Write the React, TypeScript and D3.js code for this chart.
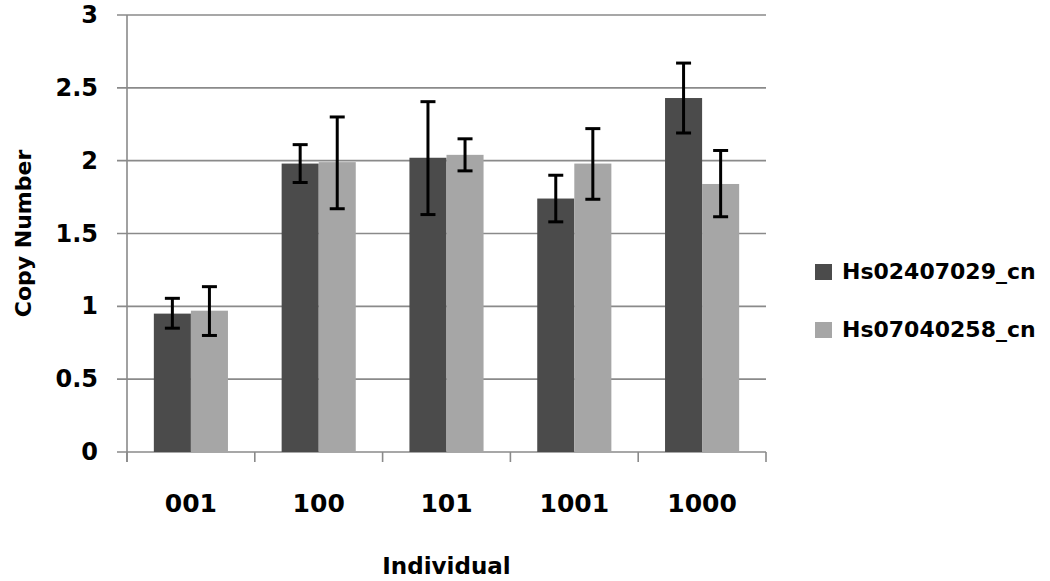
import { useEffect, useRef } from "react";
import * as d3 from "d3";

const categories = ["001", "100", "101", "1001", "1000"];
const seriesNames = ["Hs02407029_cn", "Hs07040258_cn"];
const seriesColors = ["#4b4b4b", "#a6a6a6"];
// mean copy number per individual
const hs024 = [0.95, 1.98, 2.02, 1.74, 2.43];
const hs070 = [0.97, 1.99, 2.04, 1.98, 1.84];
// error bar low / high
const hs024Low = [0.85, 1.85, 1.63, 1.58, 2.19];
const hs024High = [1.055, 2.11, 2.405, 1.9, 2.67];
const hs070Low = [0.8, 1.67, 1.93, 1.735, 1.615];
const hs070High = [1.135, 2.3, 2.15, 2.22, 2.07];
const yTicks = [0, 0.5, 1, 1.5, 2, 2.5, 3];

export default function App() {
  const ref = useRef<SVGSVGElement>(null);

  useEffect(() => {
    const svg = d3.select(ref.current);
    svg.selectAll("*").remove();

    const margin = { top: 15, right: 284, bottom: 129, left: 127 };
    const W = 1050, H = 581;
    const font = "'DejaVu Sans', Verdana, sans-serif";

    const x0 = d3.scaleBand<string>()
      .domain(categories)
      .range([margin.left, W - margin.right])
      .paddingInner(0.42)
      .paddingOuter(0.21);
    const x1 = d3.scaleBand<string>()
      .domain(seriesNames)
      .range([0, x0.bandwidth()]);
    const y = d3.scaleLinear().domain([0, 3]).range([H - margin.bottom, margin.top]);

    const gray = "#8a8a8a";

    // gridlines + y ticks
    svg.append("g").selectAll("line").data(yTicks).join("line")
      .attr("x1", margin.left - 10).attr("x2", W - margin.right)
      .attr("y1", d => y(d)).attr("y2", d => y(d))
      .attr("stroke", gray).attr("stroke-width", 1.6);

    svg.append("g").selectAll("text").data(yTicks).join("text")
      .attr("x", 98).attr("y", d => y(d) + 8)
      .attr("text-anchor", "end")
      .attr("font-family", font).attr("font-weight", "bold").attr("font-size", 24)
      .text(d => String(d));

    // y axis line
    svg.append("line")
      .attr("x1", margin.left).attr("x2", margin.left)
      .attr("y1", y(3)).attr("y2", y(0) + 10)
      .attr("stroke", gray).attr("stroke-width", 1.6);

    // x ticks at category boundaries
    const bounds = categories.map(c => (x0(c) as number) - x0.step() * 0.21).concat([W - margin.right]);
    svg.append("g").selectAll("line").data(bounds).join("line")
      .attr("x1", d => d).attr("x2", d => d)
      .attr("y1", y(0)).attr("y2", y(0) + 10)
      .attr("stroke", gray).attr("stroke-width", 1.6);

    const series = [
      { name: seriesNames[0], color: seriesColors[0], vals: hs024, lo: hs024Low, hi: hs024High },
      { name: seriesNames[1], color: seriesColors[1], vals: hs070, lo: hs070Low, hi: hs070High },
    ];

    series.forEach(s => {
      const g = svg.append("g");
      g.selectAll("rect").data(categories).join("rect")
        .attr("x", (c) => (x0(c) as number) + (x1(s.name) as number))
        .attr("width", x1.bandwidth())
        .attr("y", (c, i) => y(s.vals[i]))
        .attr("height", (c, i) => y(0) - y(s.vals[i]))
        .attr("fill", s.color);
    });

    // error bars
    series.forEach(s => {
      const g = svg.append("g").attr("stroke", "#000").attr("stroke-width", 3);
      categories.forEach((c, i) => {
        const cx = (x0(c) as number) + (x1(s.name) as number) + x1.bandwidth() / 2;
        g.append("line").attr("x1", cx).attr("x2", cx).attr("y1", y(s.lo[i])).attr("y2", y(s.hi[i]));
        g.append("line").attr("x1", cx - 7.5).attr("x2", cx + 7.5).attr("y1", y(s.lo[i])).attr("y2", y(s.lo[i]));
        g.append("line").attr("x1", cx - 7.5).attr("x2", cx + 7.5).attr("y1", y(s.hi[i])).attr("y2", y(s.hi[i]));
      });
    });

    // category labels
    svg.append("g").selectAll("text").data(categories).join("text")
      .attr("x", c => (x0(c) as number) + x0.bandwidth() / 2)
      .attr("y", 512)
      .attr("text-anchor", "middle")
      .attr("font-family", font).attr("font-weight", "bold").attr("font-size", 25)
      .text(c => c);

    // axis titles
    svg.append("text")
      .attr("x", (margin.left + W - margin.right) / 2).attr("y", 574)
      .attr("text-anchor", "middle")
      .attr("font-family", font).attr("font-weight", "bold").attr("font-size", 23)
      .text("Individual");

    svg.append("text")
      .attr("transform", `translate(31, ${y(1.5)}) rotate(-90)`)
      .attr("text-anchor", "middle")
      .attr("font-family", font).attr("font-weight", "bold").attr("font-size", 22)
      .text("Copy Number");

    // legend
    const leg = svg.append("g").selectAll("g").data(series).join("g")
      .attr("transform", (d, i) => `translate(815, ${264 + i * 58})`);
    leg.append("rect").attr("width", 17).attr("height", 16).attr("fill", d => d.color);
    leg.append("text")
      .attr("x", 27).attr("y", 15)
      .attr("font-family", font).attr("font-weight", "bold").attr("font-size", 22)
      .text(d => d.name);
  }, []);

  return (
    <svg
      ref={ref}
      width={1050}
      height={581}
      style={{ position: "absolute", left: 0, top: 0, background: "#fff" }}
    />
  );
}
